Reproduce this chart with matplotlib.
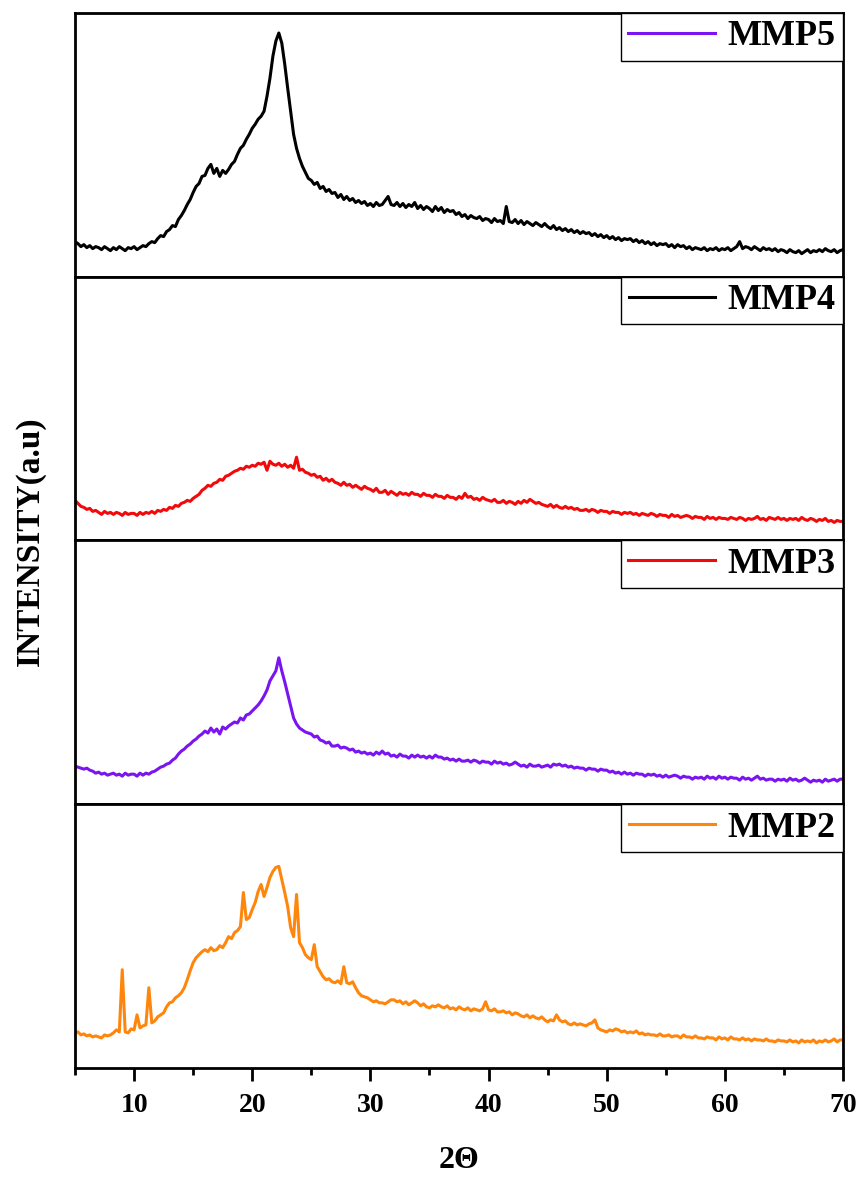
import numpy as np
import matplotlib
matplotlib.use("Agg")
import matplotlib.pyplot as plt
from matplotlib.lines import Line2D
from matplotlib.ticker import MultipleLocator

plt.rcParams.update({
    "font.family": "serif",
    "font.serif": ["Liberation Serif", "DejaVu Serif"],
    "font.weight": "bold",
})

# 2-theta grid, 5 to 70 deg in 0.25 deg steps
two_theta = np.arange(5.0, 70.0001, 0.25)

# intensities (a.u.) in panel order, top to bottom
mmp5 = [
    35, 33, 30, 32, 29, 31, 28, 30, 29, 27, 30, 28, 26, 29, 27, 30, 28, 26, 29, 28,
    30, 27, 29, 31, 30, 33, 35, 34, 38, 41, 40, 45, 47, 51, 50, 57, 61, 66, 72, 77,
    84, 90, 93, 100, 101, 108, 112, 103, 108, 100, 106, 103, 107, 112, 115, 122, 128, 131, 137, 142,
    148, 152, 157, 160, 165, 180, 198, 220, 235, 243, 233, 212, 188, 165, 142, 128, 118, 110, 104, 98,
    96, 92, 94, 88, 90, 85, 87, 83, 84, 79, 82, 77, 80, 76, 78, 74, 76, 73, 75, 71,
    73, 70, 74, 71, 72, 76, 80, 72, 71, 74, 70, 73, 69, 72, 70, 74, 68, 71, 67, 70,
    68, 65, 70, 66, 69, 64, 67, 65, 66, 62, 64, 60, 62, 58, 61, 59, 58, 60, 56, 58,
    57, 54, 58, 55, 56, 53, 70, 55, 54, 57, 53, 56, 52, 55, 53, 51, 54, 52, 50, 53,
    50, 48, 51, 47, 49, 46, 48, 45, 47, 44, 46, 43, 45, 43, 44, 41, 43, 40, 42, 39,
    41, 38, 40, 37, 39, 36, 38, 37, 38, 35, 37, 34, 36, 33, 35, 32, 34, 31, 33, 32,
    33, 30, 32, 29, 32, 30, 31, 28, 30, 27, 29, 28, 27, 29, 26, 28, 27, 29, 26, 28,
    27, 29, 26, 28, 30, 35, 28, 30, 29, 27, 30, 28, 26, 29, 27, 28, 26, 28, 25, 27,
    26, 24, 27, 25, 24, 26, 23, 25, 27, 24, 26, 25, 27, 25, 28, 26, 25, 27, 24, 26,
    27,
]

mmp4 = [
    40, 37, 34, 33, 31, 32, 29, 30, 28, 26, 29, 27, 28, 26, 28, 27, 25, 28, 26, 27,
    27, 25, 28, 26, 28, 27, 29, 27, 30, 29, 31, 30, 33, 32, 35, 34, 37, 38, 40, 39,
    42, 44, 46, 50, 52, 55, 54, 57, 58, 61, 60, 64, 65, 67, 69, 70, 72, 71, 74, 73,
    75, 74, 77, 76, 78, 70, 79, 76, 75, 77, 74, 76, 73, 75, 72, 83, 70, 71, 68, 67,
    65, 66, 63, 64, 60, 62, 59, 61, 58, 57, 55, 58, 55, 56, 53, 55, 53, 51, 54, 52,
    51, 49, 52, 48, 48, 50, 46, 49, 47, 45, 48, 46, 47, 45, 48, 46, 46, 44, 47, 45,
    45, 43, 46, 44, 44, 42, 45, 43, 43, 41, 44, 42, 47, 43, 44, 41, 42, 40, 43, 41,
    40, 39, 41, 38, 38, 40, 37, 39, 38, 36, 39, 37, 40, 38, 41, 39, 37, 38, 36, 35,
    34, 36, 33, 35, 33, 32, 34, 32, 33, 31, 32, 30, 30, 31, 29, 31, 30, 28, 30, 29,
    29, 27, 29, 28, 28, 26, 28, 27, 28, 26, 27, 25, 27, 26, 25, 27, 26, 24, 26, 25,
    25, 23, 26, 24, 25, 23, 24, 25, 24, 22, 24, 23, 23, 21, 24, 22, 23, 21, 23, 22,
    22, 21, 23, 22, 21, 23, 22, 20, 22, 21, 22, 24, 21, 22, 20, 23, 22, 21, 23, 21,
    22, 20, 22, 21, 22, 20, 23, 21, 20, 22, 21, 19, 21, 20, 22, 19, 20, 18, 20, 19,
    19,
]

mmp3 = [
    38, 37, 36, 35, 36, 34, 33, 31, 32, 30, 31, 29, 30, 31, 29, 30, 28, 31, 29, 30,
    30, 28, 31, 29, 31, 30, 32, 33, 35, 37, 38, 40, 41, 44, 46, 50, 53, 55, 58, 60,
    63, 65, 68, 70, 73, 71, 76, 72, 75, 70, 77, 75, 78, 80, 82, 81, 86, 84, 89, 90,
    93, 96, 99, 103, 108, 114, 123, 128, 133, 146, 133, 122, 110, 98, 86, 80, 76, 74, 72, 71,
    70, 67, 68, 64, 63, 61, 62, 58, 58, 59, 56, 57, 56, 54, 55, 52, 53, 51, 52, 50,
    51, 49, 52, 50, 53, 50, 51, 48, 49, 47, 50, 48, 48, 46, 49, 47, 49, 47, 48, 46,
    48, 46, 49, 47, 47, 45, 46, 44, 45, 43, 45, 43, 43, 44, 42, 44, 43, 41, 43, 42,
    42, 40, 43, 41, 42, 40, 41, 39, 40, 42, 40, 38, 39, 37, 40, 38, 38, 39, 37, 38,
    39, 37, 40, 39, 40, 38, 39, 37, 38, 36, 37, 36, 36, 34, 36, 35, 35, 33, 35, 34,
    34, 32, 33, 31, 32, 30, 32, 30, 31, 29, 31, 30, 30, 28, 30, 29, 30, 28, 29, 27,
    29, 27, 28, 29, 28, 26, 28, 27, 27, 25, 27, 26, 27, 25, 28, 26, 27, 25, 28, 26,
    27, 25, 27, 26, 26, 24, 27, 25, 26, 24, 26, 28, 25, 26, 24, 25, 25, 23, 25, 24,
    25, 23, 26, 24, 25, 23, 24, 26, 24, 22, 24, 23, 24, 22, 25, 23, 24, 25, 23, 25,
    25,
]

mmp2 = [
    35, 36, 33, 34, 32, 33, 31, 32, 31, 30, 33, 32, 33, 35, 38, 36, 98, 36, 35, 39,
    38, 53, 40, 42, 43, 80, 45, 47, 51, 53, 55, 61, 65, 66, 70, 72, 75, 80, 88, 97,
    105, 110, 113, 116, 118, 116, 120, 117, 118, 122, 120, 125, 131, 129, 135, 137, 141, 175, 148, 150,
    158, 165, 176, 183, 171, 180, 190, 196, 200, 201, 188, 175, 161, 140, 131, 173, 125, 120, 113, 110,
    108, 123, 101, 96, 91, 88, 89, 86, 85, 87, 84, 101, 85, 84, 86, 80, 75, 72, 71, 70,
    68, 66, 67, 65, 65, 64, 66, 68, 68, 66, 67, 64, 66, 63, 65, 67, 65, 62, 64, 61,
    60, 62, 61, 63, 61, 60, 62, 59, 60, 58, 61, 59, 58, 60, 57, 59, 58, 57, 59, 66,
    58, 57, 59, 56, 56, 57, 55, 56, 53, 55, 54, 52, 51, 53, 50, 52, 50, 49, 51, 48,
    46, 48, 47, 53, 48, 46, 47, 44, 43, 45, 43, 44, 43, 42, 44, 45, 48, 40, 38, 37,
    36, 38, 37, 39, 38, 36, 37, 35, 36, 35, 37, 34, 35, 33, 34, 33, 33, 32, 34, 32,
    32, 33, 31, 32, 32, 30, 33, 31, 31, 30, 32, 30, 30, 29, 31, 30, 30, 28, 31, 29,
    30, 28, 31, 29, 29, 28, 30, 28, 29, 27, 29, 28, 28, 27, 29, 27, 27, 26, 28, 27,
    27, 26, 28, 26, 27, 25, 28, 26, 27, 26, 28, 25, 27, 26, 28, 26, 27, 29, 26, 28,
    28,
]

series = [mmp5, mmp4, mmp3, mmp2]
labels = ["MMP5", "MMP4", "MMP3", "MMP2"]
line_colors = ["#000000", "#F20A0A", "#7A14F0", "#FF860D"]
legend_colors = ["#7A14F0", "#000000", "#F20A0A", "#FF860D"]

fig = plt.figure(figsize=(8.62, 11.77), dpi=100)
gs = fig.add_gridspec(4, 1, left=0.087, right=0.978, top=0.989, bottom=0.0926, hspace=0)

axes = []
for i, (y, lab, lc, hc) in enumerate(zip(series, labels, line_colors, legend_colors)):
    ax = fig.add_subplot(gs[i])
    ax.plot(two_theta, y, color=lc, lw=2.2)
    ax.set_xlim(5, 70)
    ax.set_ylim(0, 263)
    ax.set_yticks([])
    for sp in ax.spines.values():
        sp.set_linewidth(2.0)

    # legend box sits flush in the upper right corner
    handle = Line2D([], [], color=hc, lw=2.2)
    leg = ax.legend([handle], [lab], loc="upper right", borderaxespad=0,
                    frameon=True, fancybox=False, framealpha=1,
                    prop={"family": "Liberation Serif", "weight": "bold", "size": 26},
                    handlelength=2.4, handletextpad=0.35, borderpad=0.2)
    leg.get_frame().set_edgecolor("black")
    leg.get_frame().set_linewidth(1.0)

    if i < 3:
        ax.tick_params(axis="x", which="both", bottom=False, labelbottom=False)
    axes.append(ax)

bot = axes[-1]
bot.xaxis.set_major_locator(MultipleLocator(10))
bot.xaxis.set_minor_locator(MultipleLocator(5))
bot.tick_params(axis="x", which="major", direction="out", length=9, width=2, pad=9,
                labelsize=20)
bot.tick_params(axis="x", which="minor", direction="out", length=5, width=2)

fig.text(0.532, 0.0136, "2\u0398", ha="center", va="center", fontsize=23, fontweight="bold")
fig.text(0.035, 0.54, "INTENSITY(a.u)", ha="center", va="center", rotation=90,
         fontsize=24, fontweight="bold")

fig.savefig("out.png", dpi=100)
